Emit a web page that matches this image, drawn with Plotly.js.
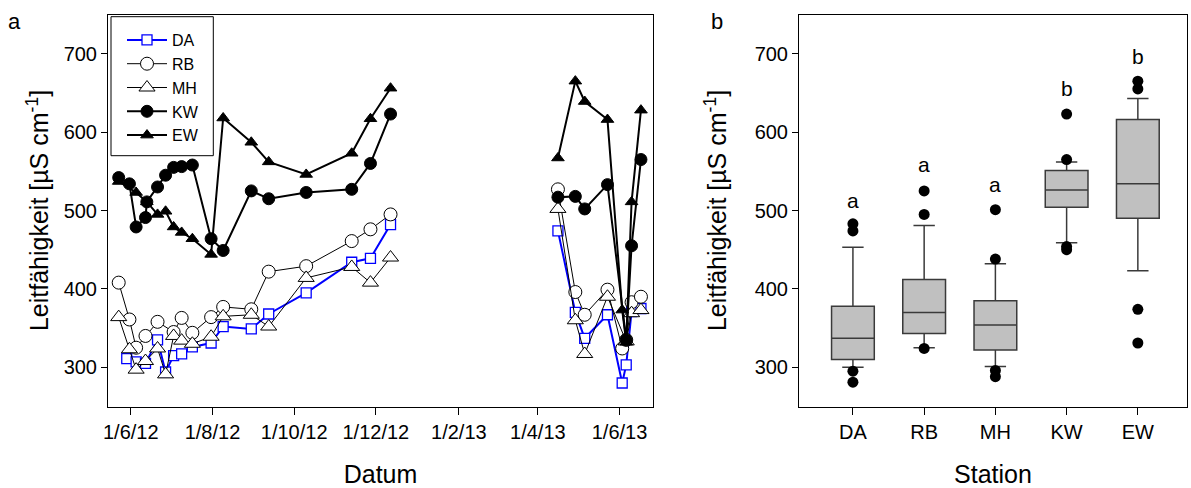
<!DOCTYPE html>
<html>
<head>
<meta charset="utf-8">
<script src="https://cdn.plot.ly/plotly-3.0.1.min.js"></script>
<style>html,body{margin:0;padding:0;background:#fff}#chart{width:1191px;height:488px}</style>
</head>
<body>
<div id="chart"></div>
<script>
// ---------- Panel a: time series ----------
const daDates = ['2012-05-29','2012-06-05','2012-06-12','2012-06-21','2012-06-27','2012-07-03','2012-07-09','2012-07-17','2012-07-31','2012-08-09','2012-08-30','2012-09-12','2012-10-10','2012-11-13','2012-11-27','2012-12-12','2013-04-16','2013-04-29','2013-05-06','2013-05-23','2013-06-03','2013-06-06','2013-06-10','2013-06-17'];
const daValues = [311,307,305,335,294,315,317,326,331,352,349,368,395,434,439,482,474,370,337,367,280,303,371,375];

const rbDates = ['2012-05-23','2012-05-31','2012-06-05','2012-06-12','2012-06-21','2012-07-03','2012-07-09','2012-07-17','2012-07-31','2012-08-09','2012-08-30','2012-09-12','2012-10-10','2012-11-13','2012-11-27','2012-12-12','2013-04-16','2013-04-29','2013-05-06','2013-05-23','2013-06-03','2013-06-06','2013-06-10','2013-06-17'];
const rbValues = [408,361,325,340,358,345,363,344,364,377,374,422,429,461,476,495,527,396,367,399,324,335,383,390];

const mhDates = ['2012-05-23','2012-05-31','2012-06-05','2012-06-12','2012-06-21','2012-06-27','2012-07-03','2012-07-09','2012-07-17','2012-07-31','2012-08-09','2012-08-30','2012-09-12','2012-10-10','2012-11-13','2012-11-27','2012-12-12','2013-04-16','2013-04-29','2013-05-06','2013-05-23','2013-06-06','2013-06-10','2013-06-17'];
const mhValues = [364,323,297,308,324,291,340,334,330,339,365,367,352,414,428,408,440,502,360,317,390,333,369,373];

const kwDates = ['2012-05-23','2012-05-31','2012-06-05','2012-06-12','2012-06-13','2012-06-21','2012-06-27','2012-07-03','2012-07-09','2012-07-17','2012-07-31','2012-08-09','2012-08-30','2012-09-12','2012-10-10','2012-11-13','2012-11-27','2012-12-12','2013-04-16','2013-04-29','2013-05-06','2013-05-23','2013-06-06','2013-06-10','2013-06-17'];
const kwValues = [542,534,479,491,511,530,545,555,556,558,464,449,525,515,523,527,560,623,517,518,502,533,335,455,565];

const ewDates = ['2012-05-23','2012-06-05','2012-06-13','2012-06-21','2012-06-27','2012-07-03','2012-07-09','2012-07-17','2012-07-31','2012-08-09','2012-08-30','2012-09-12','2012-10-10','2012-11-13','2012-11-27','2012-12-12','2013-04-16','2013-04-29','2013-05-06','2013-05-23','2013-06-03','2013-06-06','2013-06-10','2013-06-17'];
const ewValues = [537,523,511,495,499,479,472,464,444,618,587,562,546,573,617,656,567,665,639,616,373,332,511,628];

const dateTickVals = ['2012-06-01','2012-08-01','2012-10-01','2012-12-01','2013-02-01','2013-04-01','2013-06-01'];
const dateTickText = ['1/6/12','1/8/12','1/10/12','1/12/12','1/2/13','1/4/13','1/6/13'];

// ---------- Panel b: box plots ----------
const stations = ['DA','RB','MH','KW','EW'];
const lowerFence = [300,325,301,459,423];
const q1 = [310,343,322,504,490];
const medians = [337,370,354,526,534];
const q3 = [378,412,385,551,616];
const upperFence = [453,481,432,562,643];
const outlierStation = ['DA','DA','DA','DA','RB','RB','RB','MH','MH','MH','MH','KW','KW','KW','KW','EW','EW','EW','EW'];
const outlierValues = [483,474,295,281,525,495,324,501,438,296,288,623,565,454,450,665,655,374,331];
const sigLetters = ['a','a','a','b','b'];
const letterY = [513,559,533,655,697];

const yTicks = [300,400,500,600,700];

// insert a gap (null) where sampling pauses for > 60 days
function withGaps(dates, vals){
  const x=[], y=[];
  for(let i=0;i<dates.length;i++){
    if(i>0 && (new Date(dates[i]) - new Date(dates[i-1]))/86400000 > 60){ x.push(null); y.push(null); }
    x.push(dates[i]); y.push(vals[i]);
  }
  return {x, y};
}

const FONT = 'Arial, "Liberation Sans", sans-serif';
const W = 1191, H = 488;
const seriesDefs = [
  {name:'DA', d:daDates, v:daValues, lc:'#0000ff', lw:2, sym:'square', ms:10, fill:'#ffffff', ml:'#0000ff', mlw:1.3},
  {name:'RB', d:rbDates, v:rbValues, lc:'#000000', lw:1, sym:'circle', ms:13, fill:'#ffffff', ml:'#000000', mlw:1},
  {name:'MH', d:mhDates, v:mhValues, lc:'#000000', lw:1, sym:'triangle-up', ms:14, fill:'#ffffff', ml:'#000000', mlw:1},
  {name:'KW', d:kwDates, v:kwValues, lc:'#000000', lw:2, sym:'circle', ms:12, fill:'#000000', ml:'#000000', mlw:1},
  {name:'EW', d:ewDates, v:ewValues, lc:'#000000', lw:2, sym:'triangle-up', ms:11, fill:'#000000', ml:'#000000', mlw:1}
];

const traces = seriesDefs.map(s => {
  const g = withGaps(s.d, s.v);
  return {type:'scatter', mode:'lines+markers', name:s.name, x:g.x, y:g.y,
          connectgaps:false, line:{color:s.lc, width:s.lw},
          marker:{symbol:s.sym, size:s.ms, color:s.fill, line:{color:s.ml, width:s.mlw}},
          xaxis:'x', yaxis:'y', hoverinfo:'x+y'};
});

traces.push({
  type:'box', x:stations, q1:q1, median:medians, q3:q3,
  lowerfence:lowerFence, upperfence:upperFence,
  xaxis:'x2', yaxis:'y2', showlegend:false,
  fillcolor:'#c0c0c0', line:{color:'#3a3a3a', width:1.5},
  width:0.6, whiskerwidth:0.5, boxpoints:false
});
traces.push({
  type:'scatter', mode:'markers', x:outlierStation, y:outlierValues,
  xaxis:'x2', yaxis:'y2', showlegend:false,
  marker:{color:'#000000', size:11}
});

const annotations = [
  {text:'a', xref:'paper', yref:'paper', x:14/W, y:1-22/H, xanchor:'center', yanchor:'middle', showarrow:false, font:{family:FONT, size:22, color:'#000'}},
  {text:'b', xref:'paper', yref:'paper', x:717/W, y:1-22/H, xanchor:'center', yanchor:'middle', showarrow:false, font:{family:FONT, size:22, color:'#000'}}
];
stations.forEach((st,i)=>{
  annotations.push({text:sigLetters[i], xref:'x2', yref:'y2', x:st, y:letterY[i], showarrow:false,
    xanchor:'center', yanchor:'middle', font:{family:FONT, size:21, color:'#000'}});
});

const yAxisCommon = {
  range:[250,750], tickvals:yTicks, ticks:'outside', ticklen:6, tickwidth:1, tickcolor:'#000',
  showline:true, mirror:true, linecolor:'#000', linewidth:1, showgrid:false, zeroline:false,
  tickfont:{family:FONT, size:20, color:'#000'}
};
const yTitle = 'Leitfähigkeit [µS cm<sup>-1</sup>]';

const layout = {
  width:W, height:H, paper_bgcolor:'#fff', plot_bgcolor:'#fff',
  margin:{l:0, r:0, t:0, b:0},
  showlegend:true,
  legend:{x:122/W, y:1-23/H, xanchor:'left', yanchor:'top', bgcolor:'rgba(0,0,0,0)',
          borderwidth:0, itemwidth:40, font:{family:FONT, size:16, color:'#000'}, tracegroupgap:0},
  shapes:[{type:'rect', xref:'paper', yref:'paper', x0:111/W, x1:213.3/W, y0:1-155.7/H, y1:1-16.7/H,
           line:{color:'#000', width:1}, fillcolor:'rgba(0,0,0,0)', layer:'above'}],
  xaxis:{domain:[108/W, 653/W], type:'date', range:['2012-05-15','2013-06-26'],
         tickvals:dateTickVals, ticktext:dateTickText, ticks:'outside', ticklen:7, tickwidth:1, tickcolor:'#000',
         showline:true, mirror:true, linecolor:'#000', linewidth:1, showgrid:false, zeroline:false,
         tickfont:{family:FONT, size:20, color:'#000'},
         title:{text:'Datum', font:{family:FONT, size:25, color:'#000'}}, anchor:'y'},
  yaxis:Object.assign({}, yAxisCommon, {domain:[1-406.5/H, 1-14.5/H], anchor:'x',
         title:{text:yTitle, font:{family:FONT, size:25, color:'#000'}}}),
  xaxis2:{domain:[799/W, 1187/W], type:'category', range:[-0.757, 4.69],
          ticks:'outside', ticklen:7, tickwidth:1, tickcolor:'#000',
          showline:true, mirror:true, linecolor:'#000', linewidth:1, showgrid:false, zeroline:false,
          tickfont:{family:FONT, size:20, color:'#000'},
          title:{text:'Station', font:{family:FONT, size:25, color:'#000'}}, anchor:'y2'},
  yaxis2:Object.assign({}, yAxisCommon, {domain:[1-406.5/H, 1-14.5/H], anchor:'x2',
         title:{text:yTitle, standoff:20, font:{family:FONT, size:25, color:'#000'}}}),
  annotations:annotations
};

Plotly.newPlot('chart', traces, layout, {displayModeBar:false, staticPlot:true});
</script>
</body>
</html>
